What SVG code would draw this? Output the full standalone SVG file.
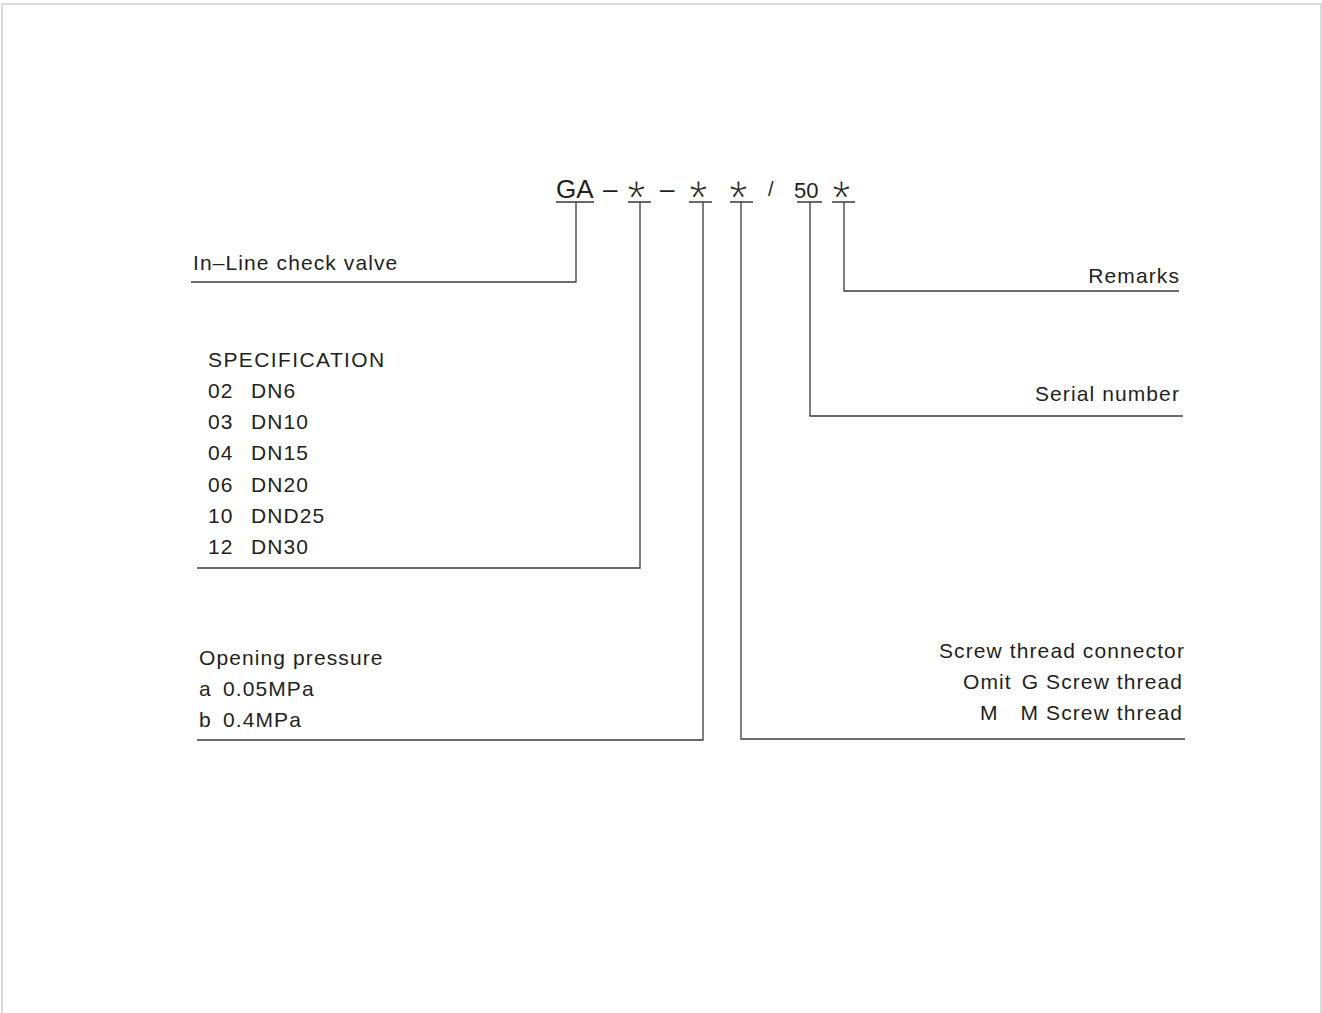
<svg xmlns="http://www.w3.org/2000/svg" width="1322" height="1013" viewBox="0 0 1322 1013">
<style>
text{font-family:"Liberation Sans",Arial,sans-serif;fill:#231f20;font-size:21px;letter-spacing:1.1px}
.code{font-size:26px;letter-spacing:0}
.ast{font-size:48px;letter-spacing:0;stroke:#fff;stroke-width:1px}
.r{text-anchor:end}
.ln{stroke:#3a3a3a;stroke-width:1.3;fill:none}
</style>
<rect x="2" y="4" width="1319" height="1020" fill="#fff" stroke="#cfcfcf" stroke-width="1.5"/>
<g id="code">
<text class="code" x="556" y="198">GA</text>
<text class="code" x="603" y="198">–</text>
<text class="ast" x="627" y="214">*</text>
<text class="code" x="660" y="198">–</text>
<text class="ast" x="689" y="214">*</text>
<text class="ast" x="729" y="214">*</text>
<text class="code" x="768" y="196" style="font-size:20px">/</text>
<text class="code" x="794" y="198" style="font-size:22px">50</text>
<text class="ast" x="832" y="214">*</text>
</g>
<g id="connectors" class="ln">
<path d="M556 202H594M576 202V282H191"/>
<path d="M628 202H651M640 202V568H197"/>
<path d="M689 202H712M703 202V740H197"/>
<path d="M730 202H753M741 202V739H1185"/>
<path d="M797 202H822M810 202V416H1183"/>
<path d="M832 202H855M844 202V291H1179"/>
</g>
<g id="inline"><text x="193" y="270">In–Line check valve</text></g>
<g id="spec">
<text x="208" y="367" style="letter-spacing:1.4px">SPECIFICATION</text>
<text x="208" y="398">02<tspan x="251">DN6</tspan></text>
<text x="208" y="429">03<tspan x="251">DN10</tspan></text>
<text x="208" y="460">04<tspan x="251">DN15</tspan></text>
<text x="208" y="492">06<tspan x="251">DN20</tspan></text>
<text x="208" y="523">10<tspan x="251">DND25</tspan></text>
<text x="208" y="554">12<tspan x="251">DN30</tspan></text>
</g>
<g id="pressure">
<text x="199" y="665">Opening pressure</text>
<text x="199" y="696">a<tspan x="223">0.05MPa</tspan></text>
<text x="199" y="727">b<tspan x="223">0.4MPa</tspan></text>
</g>
<g id="thread">
<text class="r" x="1185" y="658">Screw thread connector</text>
<text x="963" y="689">Omit</text>
<text class="r" x="1183" y="689">G Screw thread</text>
<text x="980" y="720">M</text>
<text class="r" x="1183" y="720">M Screw thread</text>
</g>
<g id="serial"><text class="r" x="1180" y="401">Serial number</text></g>
<g id="remarks"><text class="r" x="1180" y="283">Remarks</text></g>
</svg>
